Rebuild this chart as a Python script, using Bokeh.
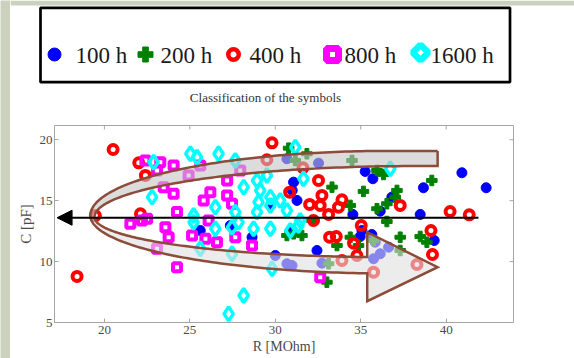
import numpy as np
from bokeh.plotting import figure
from bokeh.models import Range1d, FixedTicker, Arrow, NormalHead
from bokeh.layouts import column, row
from bokeh.core.properties import value
from bokeh.embed import file_html
from bokeh.resources import INLINE

# ---------------- data (R in MOhm, C in pF) ----------------
series_names = ["100 h", "200 h", "400 h", "800 h", "1600 h"]

r_100 = [40.92, 42.34, 38.67, 35.26, 35.71, 34.54, 38.48, 39.30, 32.44, 30.68,
         32.53, 31.07, 31.27, 36.82, 36.14, 34.97, 35.65, 35.85, 36.63, 35.75,
         36.14, 32.73, 30.68, 30.98, 30.00, 25.61, 28.64, 30.88, 27.37, 35.07,
         29.71, 30.99]
c_100 = [17.29, 16.06, 16.06, 17.40, 16.80, 13.87, 13.87, 11.73, 10.91, 18.44,
         18.08, 16.52, 15.02, 15.29, 14.14, 12.06, 12.22, 11.59, 11.18, 10.23,
         10.64, 9.87, 9.82, 9.68, 10.50, 12.55, 12.00, 12.41, 12.96, 12.55,
         14.61, 15.84]

r_200 = [39.16, 37.12, 37.02, 36.53, 35.95, 35.16, 36.53, 37.31, 38.48, 38.87,
         34.39, 34.87, 33.61, 33.32, 34.39, 34.49, 35.95, 36.33, 31.85, 32.15,
         30.68, 31.56, 35.75, 37.31, 33.12, 33.02, 30.78, 31.17, 31.07]
c_200 = [16.66, 15.84, 15.29, 14.75, 14.34, 15.76, 13.29, 12.00, 12.06, 11.59,
         12.00, 11.32, 11.32, 16.11, 14.61, 18.30, 17.48, 17.15, 18.85, 13.37,
         12.14, 12.14, 11.73, 10.91, 9.82, 8.31, 19.31, 18.30, 12.28]

r_400 = [18.40, 20.51, 22.01, 22.40, 22.11, 19.47, 29.81, 29.51, 31.62, 32.53,
         30.84, 32.01, 32.73, 32.63, 33.90, 33.70, 33.12, 32.24, 37.31, 40.23,
         41.35, 35.03, 33.18, 33.57, 34.58, 34.78, 33.90, 39.11, 39.20, 38.29,
         35.75]
c_400 = [8.78, 19.20, 18.11, 17.07, 13.92, 13.78, 19.75, 18.36, 17.70, 16.66,
         15.70, 14.69, 15.43, 14.61, 15.07, 14.47, 13.87, 13.37, 14.61, 14.11,
         13.84, 12.96, 12.00, 12.06, 11.51, 10.50, 10.09, 12.55, 10.58, 9.76,
         9.13]

r_800 = [22.40, 23.27, 23.08, 24.05, 24.93, 25.61, 23.47, 24.05, 24.25, 25.81,
         26.20, 27.18, 27.18, 27.47, 27.95, 22.50, 22.20, 21.52, 23.57, 23.76,
         25.13, 25.91, 26.59, 26.10, 27.66, 28.64, 23.08, 24.25, 32.63]
c_800 = [18.30, 18.16, 17.48, 17.89, 17.07, 17.89, 16.11, 15.57, 14.06, 15.02,
         15.70, 16.66, 15.43, 14.75, 17.48, 13.51, 13.37, 13.10, 12.82, 12.00,
         12.14, 11.87, 11.59, 13.37, 12.00, 11.32, 11.05, 9.54, 8.72]

r_1600 = [22.88, 22.79, 25.03, 25.42, 26.68, 27.66, 28.15, 28.93, 29.51, 29.12,
          29.02, 29.71, 30.29, 26.49, 27.66, 25.22, 26.49, 27.47, 28.73, 29.71,
          30.88, 25.61, 27.47, 29.81, 28.15, 27.27, 31.17, 31.65, 30.68, 31.46,
          36.73, 25.22, 29.71, 31.36, 27.85, 28.93]
c_1600 = [18.16, 15.29, 18.85, 18.57, 18.85, 18.30, 16.11, 16.66, 17.07, 15.84,
          14.88, 15.29, 15.02, 14.47, 14.06, 13.23, 12.69, 12.82, 12.69, 12.69,
          12.55, 11.05, 10.64, 9.41, 7.22, 5.71, 19.39, 16.80, 14.20, 13.37,
          17.62, 13.78, 14.61, 12.96, 13.23, 14.06]

x_ticks = [20, 25, 30, 35, 40]
y_ticks = [5, 10, 15, 20]

# ---------------- styling ----------------
BLUE, GREEN, RED, MAGENTA, CYAN = "#0000ff", "#008000", "#ff0000", "#ff00ff", "#00ffff"
SERIF = "Liberation Serif"
AXC = "#a6a6a6"
TXT = "#4a4a4a"
BROWN = "#8b4c39"
PAGE_BG = "#ccd1bd"
X0, X1, Y0, Y1 = 17.08, 43.94, 5.0, 21.17

# band (U-shaped arrow) shape parameters, in data units
OUT_XV, OUT_YV = 19.18, 13.78
OUT_A_TOP, OUT_B_TOP, OUT_A_BOT, OUT_B_BOT = 17.37, 5.30, 17.54, 4.76
IN_XV, IN_YV = 19.42, 13.65
IN_A_TOP, IN_B_TOP, IN_A_BOT, IN_B_BOT = 18.71, 4.19, 16.96, 3.28
TOP_END_X = 39.5
HEAD_BASE_X, HEAD_BASE_LO, HEAD_BASE_HI = 35.38, 6.75, 12.41
HEAD_TIP_X, HEAD_TIP_Y = 39.5, 9.54
# horizontal arrow
H_ARROW_X0, H_ARROW_X1, H_ARROW_Y = 41.89, 17.23, 13.6


def arm(xv, yv, a, b, sgn, x_end, n=90):
    t = np.linspace(0, np.pi / 2, n)
    xs = xv + a * (1 - np.cos(t))
    ys = yv + sgn * b * np.sin(t)
    keep = xs <= x_end
    xs, ys = list(xs[keep]), list(ys[keep])
    if x_end > xv + a:
        xs.append(x_end)
        ys.append(yv + sgn * b)
    else:
        tt = np.arccos(1 - (x_end - xv) / a)
        xs.append(x_end)
        ys.append(yv + sgn * b * np.sin(tt))
    return xs, ys


# ---------------- left page strip ----------------
strip = figure(width=10, height=358, x_axis_type=None, y_axis_type=None,
               output_backend="svg", toolbar_location=None, min_border=0,
               outline_line_color=None, background_fill_color=PAGE_BG,
               border_fill_color=PAGE_BG)
strip.frame_align = False

# ---------------- legend figure (page pixel coordinates) ----------------
pa = figure(width=564, height=110, x_range=Range1d(10, 574), y_range=Range1d(0, 110),
            x_axis_type=None, y_axis_type=None, output_backend="svg",
            toolbar_location=None, min_border=0, outline_line_color=None)
pa.frame_align = False
pa.quad(left=[10], right=[574], bottom=[105], top=[110], fill_color=PAGE_BG, line_color=None)
pa.quad(left=[40], right=[509.5], bottom=[28.3], top=[102.7], fill_color=None,
        line_color="black", line_width=2.7)
pa.scatter([54], [56], marker="circle", size=13, fill_color=BLUE, line_color=BLUE)
pa.scatter([145], [56], marker="plus", size=15, fill_color=GREEN, line_color=GREEN, line_width=1)
pa.scatter([233], [56], marker="circle", size=10.5, fill_color=None, line_color=RED, line_width=4.5)
pa.scatter([332], [56], marker="square", size=12, fill_color=None, line_color=MAGENTA, line_width=7)
pa.scatter([420], [58], marker="square", angle=45, angle_units="deg", size=11,
           fill_color=None, line_color=CYAN, line_width=6.5)
pa.text(x=[75, 160, 249, 344, 430], y=[55] * 5, text=series_names,
        text_font=value(SERIF), text_font_size=value("23px"), text_baseline="middle",
        text_color="#1a1a1a")
pa.text(x=[265], y=[13], text=["Classification of the symbols"], text_font=value(SERIF),
        text_font_size=value("13px"), text_align="center", text_baseline="middle",
        text_color="#333333")

# ---------------- main figure ----------------
p = figure(width=564, height=248, x_range=Range1d(X0, X1), y_range=Range1d(Y0, Y1),
           output_backend="svg", toolbar_location=None,
           min_border_left=44, min_border_right=61, min_border_top=15, min_border_bottom=36)
p.frame_align = False
p.xgrid.visible = False
p.ygrid.visible = False
p.outline_line_color = AXC
p.background_fill_color = "white"

p.xaxis.ticker = FixedTicker(ticks=x_ticks)
p.yaxis.ticker = FixedTicker(ticks=y_ticks)
p.xaxis.axis_label = "R [MOhm]"
p.yaxis.axis_label = "C [pF]"
for ax in (p.xaxis[0], p.yaxis[0]):
    ax.axis_line_color = AXC
    ax.major_tick_line_color = AXC
    ax.major_tick_in = 4
    ax.major_tick_out = 0
    ax.minor_tick_line_color = None
    ax.major_label_text_font = SERIF
    ax.major_label_text_font_size = "13px"
    ax.major_label_text_color = TXT
    ax.axis_label_text_font = SERIF
    ax.axis_label_text_font_style = "normal"
    ax.axis_label_text_color = TXT
p.xaxis.major_label_standoff = 3
p.xaxis.axis_label_standoff = 2
p.yaxis.major_label_standoff = 2
p.yaxis.axis_label_standoff = 3
p.xaxis.axis_label_text_font_size = "14px"
p.yaxis.axis_label_text_font_size = "15px"

# inward ticks on the top and right frame edges
p.segment(x0=x_ticks, y0=[Y1] * len(x_ticks), x1=x_ticks, y1=[Y1 - 0.33] * len(x_ticks),
          line_color=AXC, line_width=1)
p.segment(x0=[X1] * len(y_ticks), y0=y_ticks, x1=[X1 - 0.23] * len(y_ticks), y1=y_ticks,
          line_color=AXC, line_width=1)

# markers
p.scatter(r_100, c_100, marker="circle", size=10, fill_color=BLUE, line_color=BLUE, line_width=1)
p.scatter(r_200, c_200, marker="plus", size=10.5, fill_color=GREEN, line_color=GREEN, line_width=1)
p.scatter(r_400, c_400, marker="circle", size=9, fill_color=None, line_color=RED, line_width=4)
p.scatter(r_800, c_800, marker="square", size=8, fill_color=None, line_color=MAGENTA, line_width=4)
p.scatter(r_1600, c_1600, marker="diamond", size=14, fill_color=None, line_color=CYAN, line_width=3.5)

# U-shaped band
otx, oty = arm(OUT_XV, OUT_YV, OUT_A_TOP, OUT_B_TOP, +1, TOP_END_X)
itx, ity = arm(IN_XV, IN_YV, IN_A_TOP, IN_B_TOP, +1, TOP_END_X)
obx, oby = arm(OUT_XV, OUT_YV, OUT_A_BOT, OUT_B_BOT, -1, HEAD_BASE_X)
ibx, iby = arm(IN_XV, IN_YV, IN_A_BOT, IN_B_BOT, -1, HEAD_BASE_X)

top_x = otx + itx[::-1]
top_y = oty + ity[::-1]
bot_x = obx + [HEAD_BASE_X, HEAD_TIP_X, HEAD_BASE_X] + ibx[::-1]
bot_y = oby + [HEAD_BASE_LO, HEAD_TIP_Y, HEAD_BASE_HI] + iby[::-1]
p.patch(top_x, top_y, fill_color="#c4c4c4", fill_alpha=0.6, line_color=None)
p.patch(bot_x, bot_y, fill_color="#e0e0e0", fill_alpha=0.6, line_color=None)

out_x = otx[::-1] + obx + [HEAD_BASE_X, HEAD_TIP_X, HEAD_BASE_X] + ibx[::-1] + itx + [otx[-1]]
out_y = oty[::-1] + oby + [HEAD_BASE_LO, HEAD_TIP_Y, HEAD_BASE_HI] + iby[::-1] + ity + [oty[-1]]
p.line(out_x, out_y, line_color=BROWN, line_width=2.5, line_join="miter")

# horizontal arrow
p.add_layout(Arrow(end=NormalHead(size=15, fill_color="black", line_color="black"),
                   x_start=H_ARROW_X0, y_start=H_ARROW_Y, x_end=H_ARROW_X1, y_end=H_ARROW_Y,
                   line_color="black", line_width=2.2))

layout = row(strip, column(pa, p, spacing=0), spacing=0)
open("out.html", "w").write(file_html(layout, INLINE))
